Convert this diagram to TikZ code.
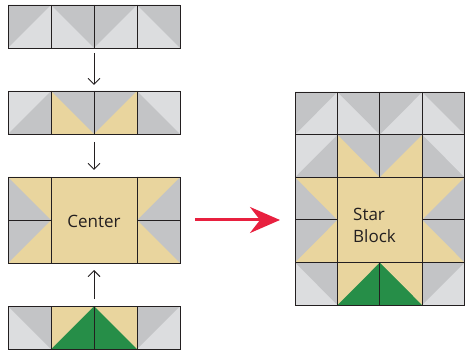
\documentclass[tikz,border=0pt]{standalone}
\usepackage{fontspec}
\setmainfont{Open Sans}
\usetikzlibrary{arrows.meta}
\definecolor{dg}{HTML}{C3C4C6}
\definecolor{lg}{HTML}{DCDDDF}
\definecolor{tan}{HTML}{E9D59E}
\definecolor{grn}{HTML}{268E48}
\definecolor{redc}{HTML}{E8203F}
\definecolor{ink}{HTML}{231F20}
\def\cw{43}\def\ch{43}
% "/" diagonal: #3 upper-left triangle, #4 lower-right triangle
\newcommand\Sl[4]{%
  \fill[#4] (#1,#2) rectangle (#1+\cw,#2+\ch);
  \fill[#3] (#1,#2) -- (#1+\cw,#2) -- (#1,#2+\ch) -- cycle;}
% "\" diagonal: #3 upper-right triangle, #4 lower-left triangle
\newcommand\Bs[4]{%
  \fill[#4] (#1,#2) rectangle (#1+\cw,#2+\ch);
  \fill[#3] (#1,#2) -- (#1+\cw,#2) -- (#1+\cw,#2+\ch) -- cycle;}
\tikzset{
  grid/.style={draw=ink,line width=0.9pt},
  blk/.style={draw=ink,line width=0.9pt,-{Straight Barb[length=6pt,width=12pt]}},
  redarrow/.style={draw=redc,line width=3pt,-{Stealth[length=30pt,width=26pt,inset=10pt]},fill=redc},
  block/.style={inner sep=0pt,outer sep=0pt},
  lbl/.style={font=\fontsize{17}{22}\selectfont,text=ink,inner sep=0pt}
}
\begin{document}
\begin{tikzpicture}[x=1pt,y=-1pt]
\useasboundingbox (0,0) rectangle (465,352);
% ---------- left column ----------
% row 1
\Sl{8}{5}{dg}{lg}\Bs{51}{5}{dg}{lg}\Sl{94}{5}{dg}{lg}\Bs{137}{5}{dg}{lg}
\draw[grid] (8,5) rectangle (180,48);
\foreach \x in {51,94,137} \draw[grid] (\x,5) -- (\x,48);
% row 2
\Sl{8}{91}{lg}{dg}\Bs{51}{91}{dg}{tan}\Sl{94}{91}{dg}{tan}\Bs{137}{91}{lg}{dg}
\draw[grid] (8,91) rectangle (180,134);
\foreach \x in {51,94,137} \draw[grid] (\x,91) -- (\x,134);
% center row
\Bs{8}{177}{tan}{dg}\Sl{8}{220}{dg}{tan}
\fill[tan] (51,177) rectangle (137,263);
\Sl{137}{177}{tan}{dg}\Bs{137}{220}{dg}{tan}
\draw[grid] (8,177) rectangle (180,263);
\foreach \x in {51,137} \draw[grid] (\x,177) -- (\x,263);
\draw[grid] (8,220) -- (51,220);
\draw[grid] (137,220) -- (180,220);
% row 4
\Bs{8}{306}{dg}{lg}\Sl{51}{306}{tan}{grn}\Bs{94}{306}{tan}{grn}\Sl{137}{306}{dg}{lg}
\draw[grid] (8,306) rectangle (180,349);
\foreach \x in {51,94,137} \draw[grid] (\x,306) -- (\x,349);
% block nodes
\node[block,minimum width=172pt,minimum height=43pt] (r1) at (94,26.5) {};
\node[block,minimum width=172pt,minimum height=43pt] (r2) at (94,112.5) {};
\node[block,minimum width=172pt,minimum height=86pt] (r3) at (94,220) {};
\node[block,minimum width=172pt,minimum height=43pt] (r4) at (94,327.5) {};
\node[lbl] (ctrtext) at (94,221) {Center};
% ---------- star block ----------
\def\cw{42.4}\def\ch{42.6}
\Sl{295}{92}{dg}{lg}\Bs{337.4}{92}{dg}{lg}\Sl{379.8}{92}{dg}{lg}\Bs{422.2}{92}{dg}{lg}
\Sl{295}{134.6}{lg}{dg}\Bs{337.4}{134.6}{dg}{tan}\Sl{379.8}{134.6}{dg}{tan}\Bs{422.2}{134.6}{lg}{dg}
\Bs{295}{177.2}{tan}{dg}\Sl{295}{219.8}{dg}{tan}
\fill[tan] (337.4,177.2) rectangle (422.2,262.4);
\Sl{422.2}{177.2}{tan}{dg}\Bs{422.2}{219.8}{dg}{tan}
\Bs{295}{262.4}{dg}{lg}\Sl{337.4}{262.4}{tan}{grn}\Bs{379.8}{262.4}{tan}{grn}\Sl{422.2}{262.4}{dg}{lg}
\draw[grid] (295,92) rectangle (464.6,305);
\foreach \x in {337.4,422.2} \draw[grid] (\x,92) -- (\x,305);
\draw[grid] (379.8,92) -- (379.8,177.2);
\draw[grid] (379.8,262.4) -- (379.8,305);
\foreach \y in {134.6,177.2,262.4} \draw[grid] (295,\y) -- (464.6,\y);
\draw[grid] (295,219.8) -- (337.4,219.8);
\draw[grid] (422.2,219.8) -- (464.6,219.8);
\node[block,minimum width=169.6pt,minimum height=213pt] (star) at (379.8,198.5) {};
\node[lbl,align=left,anchor=west] (startext) at (353,225) {Star\\Block};
% ---------- arrows ----------
\draw[blk,shorten <=5pt,shorten >=6pt] (r1) -- (r2);
\draw[blk,shorten <=8pt,shorten >=7pt] (r2) -- (r3);
\draw[blk,shorten <=7pt,shorten >=7pt] (r4) -- (r3);
\draw[redarrow,shorten <=15pt,shorten >=15pt] (r3.east) -- (r3.east -| star.west);
\end{tikzpicture}
\end{document}
